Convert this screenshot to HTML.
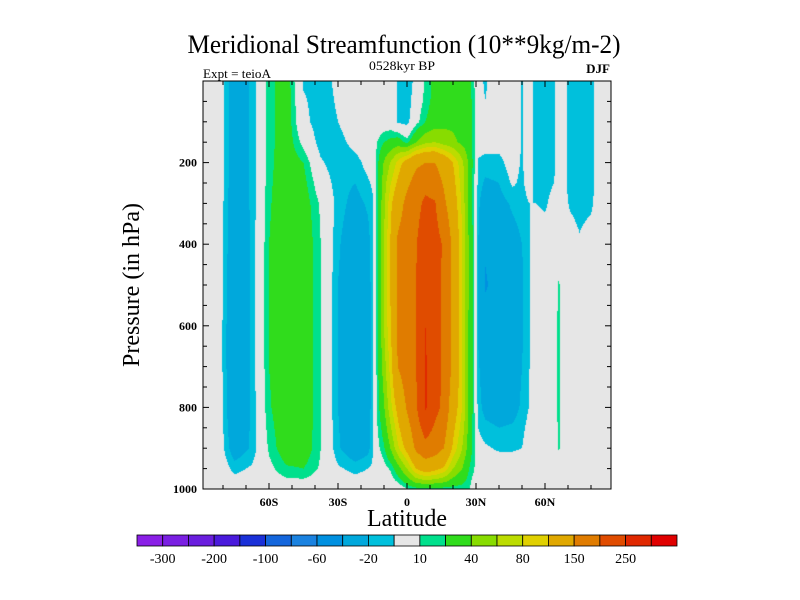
<!DOCTYPE html>
<html><head><meta charset="utf-8"><style>
html,body{margin:0;padding:0;background:#fff;}
#wrap{position:relative;width:800px;height:600px;overflow:hidden;}
canvas{position:absolute;left:0;top:0;}
svg{position:absolute;left:0;top:0;}
text{font-family:"Liberation Serif",serif;fill:#000;}
</style></head><body>
<div id="wrap">
<canvas id="field" width="800" height="600"></canvas>
<svg id="svg" width="800" height="600">
<text x="404" y="53" font-size="26" text-anchor="middle" textLength="433" lengthAdjust="spacingAndGlyphs">Meridional Streamfunction (10**9kg/m-2)</text>
<text x="203" y="78" font-size="13" textLength="68" lengthAdjust="spacingAndGlyphs">Expt = teioA</text>
<text x="402" y="70" font-size="13" text-anchor="middle" textLength="66" lengthAdjust="spacingAndGlyphs">0528kyr BP</text>
<text x="610" y="73" font-size="13" font-weight="bold" text-anchor="end">DJF</text>
<text x="407" y="526" font-size="24" text-anchor="middle">Latitude</text>
<text transform="translate(139,285) rotate(-90)" font-size="24" text-anchor="middle">Pressure (in hPa)</text>
<g id="axes"></g>
<g id="cbar"></g>
</svg>
</div>
<script>
// ---- data ----
const lats = [-90,-82.5,-75,-67.5,-60,-52.5,-45,-37.5,-30,-22.5,-17,-15,-13,-10,-7,-4,0,4,8,12,16,20,24,27,29,31,34,40,46,50,53,56,60,64,66,68,71,75,80,84,88,90];
const pressures = [0,50,100,150,200,250,300,400,500,600,700,800,900,950,1000];
const psiColumns = [
[0,0,0,0,0,0,0,0,0,0,0,0,0,0,0],
[3,3,3,3,3,3,3,3,3,3,3,3,3,3,0],
[-32,-32,-32,-32,-32,-32,-33,-35,-38,-40,-40,-38,-30,-14,0],
[-18,-18,-18,-18,-18,-18,-18,-18,-18,-18,-18,-18,-18,-8,0],
[15,15,15,15,16,17,18,20,20,20,20,18,12,6,0],
[30,30,30,30,30,31,32,32,32,32,32,32,30,18,0],
[-12,-8,-5,5,20,25,28,32,32,32,32,32,30,20,0],
[-15,-17,-18,-16,-8,0,8,10,10,10,10,10,10,8,0],
[-7,-8,-10,-15,-18,-16,-15,-18,-20,-20,-20,-20,-18,-8,0],
[0,0,0,-5,-15,-20,-25,-32,-35,-35,-35,-35,-32,-14,0],
[0,0,0,0,-5,-12,-18,-25,-28,-28,-28,-28,-25,-10,0],
[0,0,0,0,-3,-8,-12,-14,-14,-14,-14,-14,-12,-8,0],
[0,0,0,10,15,15,15,15,15,15,14,12,5,-5,0],
[0,0,0,20,42,50,55,60,62,60,50,38,18,5,0],
[0,0,0,25,62,80,95,105,105,100,90,75,42,12,0],
[-12,-12,-12,30,85,105,125,160,160,160,150,110,75,30,0],
[-18,-18,-15,15,115,140,165,180,180,180,175,155,110,60,8],
[-5,0,5,40,140,170,185,198,200,200,200,195,160,100,14],
[12,14,20,55,150,185,210,230,235,250,255,255,185,120,14],
[25,25,30,60,150,175,205,220,220,220,225,215,175,110,14],
[30,30,35,50,130,145,160,195,190,190,190,190,150,95,14],
[30,30,35,45,100,110,120,140,140,140,140,120,95,60,14],
[28,30,30,35,65,70,75,80,80,80,80,80,60,40,14],
[25,26,28,30,35,32,30,38,38,35,35,35,30,20,12],
[12,15,15,15,15,15,15,15,15,15,15,15,15,12,0],
[-5,-3,0,-3,-12,-15,-18,-20,-22,-22,-18,-15,-5,0,0],
[-12,-10,-2,-3,-15,-22,-28,-38,-42,-32,-30,-25,-8,0,0],
[0,0,0,-5,-14,-20,-25,-30,-32,-32,-30,-28,-12,0,0],
[0,0,0,0,-3,-8,-18,-25,-28,-30,-28,-25,-12,0,0],
[-11,-11,-11,-11,-12,-13,-16,-20,-22,-22,-20,-18,-10,0,0],
[0,0,0,0,0,-3,-10,-12,-12,-12,-11,-10,0,0,0],
[-15,-15,-15,-15,-15,-14,-10,0,0,0,0,0,0,0,0],
[-15,-15,-15,-15,-15,-14,-12,-3,0,0,0,0,0,0,0],
[-12,-12,-12,-12,-12,-10,-5,0,0,0,0,0,0,0,0],
[0,0,0,0,0,0,0,0,12,15,15,15,12,0,0],
[-5,-5,-5,-5,-5,-5,-5,-3,0,0,0,0,0,0,0],
[-15,-15,-15,-15,-15,-15,-12,-2,0,0,0,0,0,0,0],
[-15,-15,-15,-15,-15,-15,-15,-8,0,0,0,0,0,0,0],
[-15,-15,-15,-15,-15,-15,-13,-2,0,0,0,0,0,0,0],
[0,0,0,0,0,0,0,0,0,0,0,0,0,0,0],
[0,0,0,0,0,0,0,0,0,0,0,0,0,0,0],
[0,0,0,0,0,0,0,0,0,0,0,0,0,0,0]
];
const levels = [-300,-250,-200,-150,-100,-80,-60,-40,-20,-10,10,20,40,60,80,100,150,200,250,300];
const levelColors = ["#8a1fe6","#7a1fe2","#6a1ede","#4a1adc","#1a30d8","#1466dc","#1a82e0","#0090e0","#00a8dc","#00c0dc","#e6e6e6","#00e08c","#30dc1c","#88dc00","#bcdc00","#e0d000","#e0a800","#e07c00","#e04c00","#e02800","#e00000"];
const cbarLabels = ["-300","-200","-100","-60","-20","10","40","80","150","250"];
const xTickLabels = ["60S","30S","0","30N","60N"];
const xTickLats = [-60,-30,0,30,60];
const yTickLabels = ["200","400","600","800","1000"];
const yTickVals = [200,400,600,800,1000];

// ---- scales ----
const X0=203,X1=611,Y0=81,Y1=489;
function xScale(lat){return 407+lat*2.3;}
function yScale(p){return Y0+(p/1000)*(Y1-Y0);}
function latOf(x){return (x-407)/2.3;}
function pOf(y){return (y-Y0)/(Y1-Y0)*1000;}
function findIdx(arr,v){
  if(v<=arr[0])return 0;
  for(let i=0;i<arr.length-1;i++){if(v<=arr[i+1])return i;}
  return arr.length-2;
}
function sample(lat,p){
  const i=findIdx(lats,lat), j=findIdx(pressures,p);
  let tx=(lat-lats[i])/(lats[i+1]-lats[i]); tx=Math.max(0,Math.min(1,tx));
  let ty=(p-pressures[j])/(pressures[j+1]-pressures[j]); ty=Math.max(0,Math.min(1,ty));
  const a=psiColumns[i][j],b=psiColumns[i+1][j],c=psiColumns[i][j+1],d=psiColumns[i+1][j+1];
  return (a*(1-tx)+b*tx)*(1-ty)+(c*(1-tx)+d*tx)*ty;
}
function colorIdx(v){let k=0;while(k<levels.length&&v>=levels[k])k++;return k;}
function hex(c){return [parseInt(c.substr(1,2),16),parseInt(c.substr(3,2),16),parseInt(c.substr(5,2),16)];}
const rgb=levelColors.map(hex);

// ---- field ----
const cv=document.getElementById('field');
const ctx=cv.getContext('2d');
const img=ctx.createImageData(X1-X0,Y1-Y0);
for(let y=0;y<Y1-Y0;y++){
  const p=pOf(Y0+y+0.5);
  for(let x=0;x<X1-X0;x++){
    const v=sample(latOf(X0+x+0.5),p);
    const c=rgb[colorIdx(v)];
    const o=(y*(X1-X0)+x)*4;
    img.data[o]=c[0];img.data[o+1]=c[1];img.data[o+2]=c[2];img.data[o+3]=255;
  }
}
ctx.putImageData(img,X0,Y0);

// ---- axes ----
const NS='http://www.w3.org/2000/svg';
const axes=document.getElementById('axes');
function mk(tag,attrs,parent){const e=document.createElementNS(NS,tag);for(const k in attrs)e.setAttribute(k,attrs[k]);parent.appendChild(e);return e;}
const frame=mk('rect',{x:X0,y:Y0,width:X1-X0,height:Y1-Y0,fill:'none',stroke:'#000','stroke-width':1},axes);


for(let lat=-80;lat<=80;lat+=10){
  const x=xScale(lat), major=(lat%30===0), L=major?6:4;
  const t1=mk('line',{x1:x,y1:Y1,x2:x,y2:Y1-L,stroke:'#000'},axes);
  
  
  const t2=mk('line',{x1:x,y1:Y0,x2:x,y2:Y0+L,stroke:'#000'},axes);
  
  
}
for(let p=50;p<1000;p+=50){
  const y=yScale(p), major=(p%200===0), L=major?6:4;
  const t1=mk('line',{x1:X0,y1:y,x2:X0+L,y2:y,stroke:'#000'},axes);
  
  
  const t2=mk('line',{x1:X1,y1:y,x2:X1-L,y2:y,stroke:'#000'},axes);
  
  
}
xTickLabels.forEach((s,i)=>{
  const t=mk('text',{x:xScale(xTickLats[i]),y:506,'font-size':12,'font-weight':'bold','text-anchor':'middle'},axes);
  t.textContent=s;
  
  
});
yTickLabels.forEach((s,i)=>{
  const t=mk('text',{x:197,y:yScale(yTickVals[i])+4,'font-size':12,'font-weight':'bold','text-anchor':'end'},axes);
  t.textContent=s;
  
  
});

// ---- colorbar ----
const cb=document.getElementById('cbar');
const CB0=137,CB1=677,CBY=535,CBH=11;
const bw=(CB1-CB0)/levelColors.length;
levelColors.forEach((c,i)=>{
  const r=mk('rect',{x:CB0+i*bw,y:CBY,width:bw,height:CBH,fill:c,stroke:'#000','stroke-width':0.8},cb);
  
  
});
cbarLabels.forEach((s,i)=>{
  const t=mk('text',{x:CB0+(2*i+1)*bw,y:563,'font-size':14,'text-anchor':'middle'},cb);
  t.textContent=s;
  
  
});
</script>
</body></html>
